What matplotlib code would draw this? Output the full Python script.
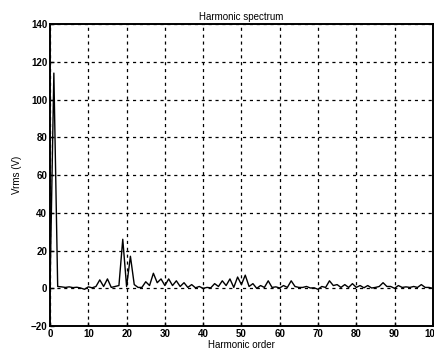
import matplotlib
matplotlib.use("Agg")
import matplotlib.pyplot as plt
import numpy as np

# Harmonic orders 0..100 and rms voltage per order
orders = np.arange(0, 101)
vrms = [
    0, 114, 1.0, 0.8, 0.5, 0.8, 0.4, 0.6, 0.2, -0.5,
    0.8, 0.3, 1.0, 4.5, 1.0, 5.0, 0.5, 1.0, 1.5, 26,
    1.0, 17, 2.0, 0.5, 0.5, 3.5, 1.5, 8.0, 3.0, 5.0,
    1.5, 5.0, 1.5, 4.0, 1.0, 3.0, 0.5, 2.0, 0.3, 1.0,
    0.0, 0.5, 0.3, 2.5, 1.0, 4.0, 1.5, 5.0, 0.5, 6.0,
    2.0, 7.0, 1.0, 2.5, 0.0, 1.5, 0.5, 4.0, 0.5, 0.8,
    0.2, 1.5, 0.5, 4.0, 1.0, 0.5, 0.5, 1.0, 0.2, 0.3,
    -0.5, 1.0, 0.5, 4.0, 1.5, 2.0, 0.5, 2.0, 0.5, 2.5,
    0.5, 1.5, 0.3, 1.5, 0.2, 0.5, 1.0, 3.0, 1.0, 1.0,
    0.0, 1.5, 0.5, 0.8, 0.5, 1.0, 0.5, 2.0, 0.5, 0.5,
    0.0,
]
xticks = list(range(0, 101, 10))
yticks = list(range(-20, 141, 20))

plt.rcParams["font.family"] = ["Liberation Sans", "DejaVu Sans"]

fig = plt.figure(figsize=(4.35, 3.58), dpi=100)
ax = fig.add_axes([0.115, 0.089, 0.88, 0.844])

ax.plot(orders, vrms, color="black", linewidth=1.0)

ax.set_xlim(0, 100)
ax.set_ylim(-20, 140)
ax.set_xticks(xticks)
ax.set_yticks(yticks)
ax.tick_params(direction="in", length=3, width=1, labelsize=7, pad=2)
for lbl in ax.get_xticklabels() + ax.get_yticklabels():
    lbl.set_fontweight("bold")

ax.grid(True, color="black", linestyle=(0, (2.5, 3)), linewidth=0.9)
for s in ax.spines.values():
    s.set_linewidth(1.4)

ax.set_title("Harmonic spectrum", fontsize=7, pad=3)
ax.set_xlabel("Harmonic order", fontsize=7, labelpad=1)
ax.set_ylabel("Vrms (V)", fontsize=7, labelpad=6)

fig.savefig("out.png", dpi=100)
